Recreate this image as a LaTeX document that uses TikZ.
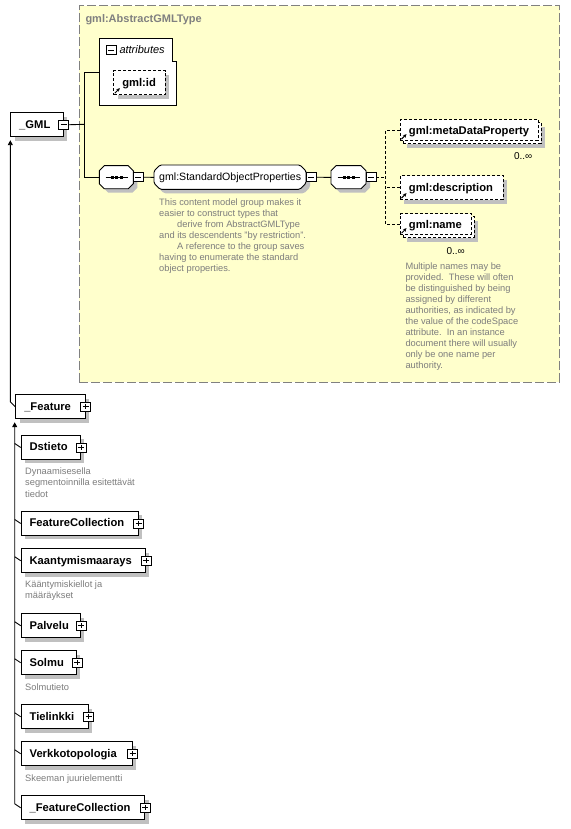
\documentclass[tikz,border=0pt]{standalone}
\usepackage{fontspec}
\setmainfont{Liberation Sans}
\usetikzlibrary{arrows.meta,shadows,calc}
\definecolor{ybg}{RGB}{255,255,204}
\definecolor{bgrey}{RGB}{128,128,128}
\definecolor{sgrey}{RGB}{192,192,192}
\definecolor{dgrey}{RGB}{125,125,125}
\newcommand{\octpath}[5]{(#1+#5,#2) -- (#3-#5,#2) -- (#3,#2+#5) -- (#3,#4-#5) -- (#3-#5,#4) -- (#1+#5,#4) -- (#1,#4-#5) -- (#1,#2+#5) -- cycle}
\begin{document}
\begin{tikzpicture}[x=1pt,y=-1pt,
  shadowed/.style={general shadow={fill=sgrey, shadow xshift=4pt, shadow yshift=-4pt}},
  elbase/.style={draw, fill=white, line width=0.9pt, anchor=north west, inner xsep=8.5pt, inner ysep=0pt,
    text height=9pt, text depth=2pt, minimum height=24pt, align=left, font=\fontsize{11.2}{13}\selectfont\bfseries},
  elbox/.style={elbase, shadowed},
  refbase/.style={elbase, dash pattern=on 3pt off 2pt},
  refbox/.style={refbase, shadowed},
  pmbox/.style={draw, fill=white, line width=0.8pt, minimum width=10pt, minimum height=9pt, inner sep=0pt},
  minusbox/.style={pmbox, path picture={\draw[line width=0.8pt] ([xshift=2pt]path picture bounding box.west) -- ([xshift=-2pt]path picture bounding box.east);}},
  plusbox/.style={pmbox, path picture={\draw[line width=0.8pt] ([xshift=2pt]path picture bounding box.west) -- ([xshift=-2pt]path picture bounding box.east) ([yshift=-2pt]path picture bounding box.north) -- ([yshift=2pt]path picture bounding box.south);}},
  seqshape/.style={draw, fill=white, line width=0.9pt, shadowed},
  anchorbox/.style={anchor=north west, inner sep=0pt},
  conn/.style={line width=0.9pt},
  dconn/.style={line width=0.9pt, dash pattern=on 3pt off 2pt},
  inherit/.style={conn, -{Triangle[length=5pt,width=5pt]}},
  refarrow/.style={line width=1pt, -{Stealth[length=3.5pt,width=3.5pt]}},
  desc/.style={anchor=north west, inner sep=0pt, align=left, text=dgrey, font=\fontsize{9.3}{11}\selectfont},
  desclow/.style={desc, font=\fontsize{9.3}{11.4}\selectfont},
  mult/.style={anchor=east, inner sep=0pt, font=\fontsize{10}{12}\selectfont}
]
\useasboundingbox (0,0) rectangle (570,829);
\fill[white] (0,0) rectangle (570,829);

% complex type background
\node[anchorbox, draw=bgrey, fill=ybg, line width=1pt, dash pattern=on 9pt off 3pt,
      minimum width=480.3pt, minimum height=376.2pt] (abstype) at (78.7,5.3) {};
\node[anchor=base west, inner sep=0pt, text=bgrey, font=\fontsize{11}{13}\selectfont\bfseries] (typename) at (85.3,23) {gml:AbstractGMLType};

% attributes
\draw[fill=white, line width=0.9pt] (99.3,38.3) -- (172.7,38.3) -- (172.7,61.7) -- (176.3,61.7) -- (176.3,105.3) -- (99.3,105.3) -- cycle;
\coordinate (attrin) at (99.3,72);
\node[minusbox] (attrpm) at (111,50.3) {};
\node[anchor=base west, inner sep=0pt, font=\fontsize{11}{13}\selectfont\itshape] (attrlbl) at (119.3,54) {attributes};
\node[refbox, text width=34.7pt] (gid) at (113.3,70.3) {gml:id};
\draw[refarrow] ([xshift=1.5pt,yshift=2pt]gid.south west) -- ++(5,-5);

% _GML
\node[elbox, text width=35.4pt] (gml) at (10.3,112.3) {\_GML};
\node[minusbox] (gmlpm) at (gml.east) {};

% sequence 1
\path[seqshape] \octpath{99.3}{165.7}{133.3}{188.7}{5};
\node[anchorbox, minimum width=34pt, minimum height=23pt] (seq1) at (99.3,165.7) {};
\draw[conn] ([xshift=-11pt]seq1.center) -- ([xshift=11pt]seq1.center);
\foreach \dx in {-4.5,0,4.5} \fill ([xshift=\dx pt]seq1.center) ++(-1.5,-1.5) rectangle ++(3,3);
\node[minusbox] (seq1pm) at (138.3,177.2) {};

% group
\path[seqshape, rounded corners=1.5pt] \octpath{154}{165}{306}{189.3}{6};
\node[anchorbox, inner xsep=5pt, minimum width=152pt, minimum height=24.3pt, text height=8.5pt, text depth=2pt,
      text width=142pt, align=left, font=\fontsize{10.6}{12}\selectfont] (grp) at (154,165) {gml:StandardObjectProperties};
\node[minusbox] (grppm) at (311,177.2) {};
\node[desc] (grpdesc) at (159,198.9) {This content model group makes it\\easier to construct types that\\\hspace*{18pt}derive from AbstractGMLType\\and its descendents "by restriction".\\\hspace*{18pt}A reference to the group saves\\having to enumerate the standard\\object properties.};

% sequence 2
\path[seqshape] \octpath{331}{165.7}{366}{188.7}{5};
\node[anchorbox, minimum width=35pt, minimum height=23pt] (seq2) at (331,165.7) {};
\draw[conn] ([xshift=-11pt]seq2.center) -- ([xshift=11pt]seq2.center);
\foreach \dx in {-4.5,0,4.5} \fill ([xshift=\dx pt]seq2.center) ++(-1.5,-1.5) rectangle ++(3,3);
\node[minusbox] (seq2pm) at (371,177.2) {};
\coordinate (vx) at (385.7,177.2);

% metaDataProperty (0..inf)
\node[refbox, minimum width=137.7pt, minimum height=21pt] (metaback) at (403,122.3) {};
\node[refbase, minimum height=21pt, text height=9.7pt, text width=120.7pt] (meta) at (400,119.3) {gml:metaDataProperty};
\draw[refarrow] ([xshift=1.5pt,yshift=2pt]meta.south west) -- ++(5,-5);
\node[mult] (metamult) at (532.5,156) {0..∞};

% description
\node[refbox, text width=85.7pt] (desc) at (400,175.3) {gml:description};
\draw[refarrow] ([xshift=1.5pt,yshift=2pt]desc.south west) -- ++(5,-5);

% name (0..inf)
\node[refbox, minimum width=70.7pt, minimum height=21pt] (nameback) at (403,216.3) {};
\node[refbase, minimum height=21pt, text height=9.7pt, text width=53.7pt] (gname) at (400,213.3) {gml:name};
\draw[refarrow] ([xshift=1.5pt,yshift=2pt]gname.south west) -- ++(5,-5);
\node[mult] (namemult) at (465,251) {0..∞};
\node[desc] (namedesc) at (405.3,262.3) {Multiple names may be\\provided.\ \ These will often\\be distinguished by being\\assigned by different\\authorities, as indicated by\\the value of the codeSpace\\attribute.\ \ In an instance\\document there will usually\\only be one name per\\authority.};

% connectors top
\coordinate (j1) at (84.7,124.3);
\draw[conn] (gmlpm.east) -- (j1);
\draw[conn] (attrin) -| (j1);
\draw[conn] (j1) |- (seq1.west);
\draw[conn] (seq1pm.east) -- (grp.west);
\draw[conn] (grppm.east) -- (seq2.west);
\draw[dconn] (seq2pm.east) -- (vx);
\draw[dconn] (meta.west) -| (vx) |- (gname.west);
\draw[dconn] (desc.west) -- (desc.west -| vx);

% _Feature
\node[elbox, text width=52.4pt] (feat) at (15.3,394.3) {\_Feature};
\node[plusbox] (featpm) at (feat.east) {};
\draw[inherit] (feat.west) -- ++(-5,-5) -- ($(gml.south west)+(0,3)$);

% children
\node[elbox, text width=42.3pt] (dst) at (20.7,435) {Dstieto};
\node[plusbox] (dstpm) at (dst.east) {};
\node[desclow] (dstdesc) at (25,467.3) {Dynaamisesella\\segmentoinnilla esitettävät\\tiedot};

\node[elbox, text width=100pt] (fc) at (20.7,511) {FeatureCollection};
\node[plusbox] (fcpm) at (fc.east) {};

\node[elbox, text width=107.3pt] (kaa) at (20.7,548.3) {Kaantymismaarays};
\node[plusbox] (kaapm) at (kaa.east) {};
\node[desclow] (kaadesc) at (25,580.6) {Kääntymiskiellot ja\\määräykset};

\node[elbox, text width=42.3pt] (pal) at (20.7,613.3) {Palvelu};
\node[plusbox] (palpm) at (pal.east) {};

\node[elbox, text width=38.3pt] (sol) at (20.7,650.3) {Solmu};
\node[plusbox] (solpm) at (sol.east) {};
\node[desclow] (soldesc) at (25,683.3) {Solmutieto};

\node[elbox, text width=50pt] (tie) at (20.7,704.3) {Tielinkki};
\node[plusbox] (tiepm) at (tie.east) {};

\node[elbox, text width=94pt] (ver) at (20.7,741.3) {Verkkotopologia};
\node[plusbox] (verpm) at (ver.east) {};
\node[desclow] (verdesc) at (25,774.3) {Skeeman juurielementti};

\node[elbox, text width=106.6pt] (ffc) at (20.7,795.3) {\_FeatureCollection};
\node[plusbox] (ffcpm) at (ffc.east) {};

\draw[inherit] (ffc.west) -- ++(-6,-4) -- ($(feat.south west)+(-0.6,3)$);
\foreach \c in {dst,fc,kaa,pal,sol,tie,ver} \draw[conn] (\c.west) -- ++(-6,-4);
\end{tikzpicture}
\end{document}
